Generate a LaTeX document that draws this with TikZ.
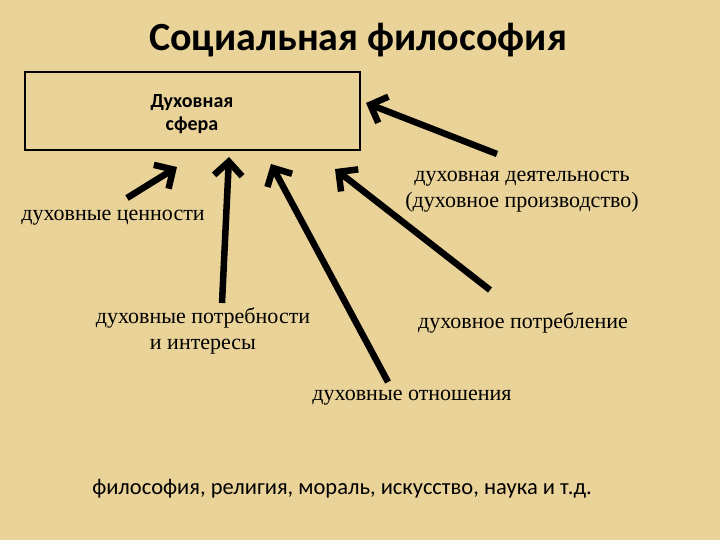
\documentclass[tikz,border=0pt]{standalone}
\usepackage{fontspec}
\setmainfont{Liberation Serif}
\newfontfamily\calib{Carlito}
\usetikzlibrary{arrows.meta}
\definecolor{parch}{RGB}{234,211,153}
\tikzset{
  bigarrow/.style={line width=6.5pt,-{Straight Barb[length=14pt,width=28pt,line width=6.5pt]},line cap=butt},
  lbl/.style={font=\fontsize{22}{26}\selectfont,align=center,inner sep=0pt},
}
\begin{document}
\begin{tikzpicture}[x=1pt,y=-1pt]
\fill[parch] (0,0) rectangle (720,540);
\useasboundingbox (0,0) rectangle (720,540);
\node[font=\calib\bfseries\fontsize{40}{46}\selectfont] (title) at (358,40) {Социальная философия};
\node[draw,line width=2pt,minimum width=335pt,minimum height=78pt,inner sep=0pt] (box) at (192.5,111) {};
\node[font=\calib\bfseries\fontsize{20}{23}\selectfont,align=center,inner sep=0pt] (sph) at (192,114) {Духовная\\сфера};
\node[lbl] (cen) at (113,218) {духовные ценности};
\node[lbl] (pot) at (203,331) {духовные потребности\\и интересы};
\node[lbl] (otn) at (412,398) {духовные отношения};
\node[lbl] (ptr) at (523,323) {духовное потребление};
\node[lbl] (dey) at (522,192) {духовная деятельность\\(духовное производство)};
\node[font=\calib\fontsize{22.5}{27}\selectfont,inner sep=0pt] (bot) at (342,489) {философия, религия, мораль, искусство, наука и т.д.};
\coordinate (t1) at (127,198); \coordinate (h1) at (177,167);
\coordinate (t2) at (222,303); \coordinate (h2) at (229,157);
\coordinate (t3) at (388,382); \coordinate (h3) at (271,164);
\coordinate (t4) at (490,290); \coordinate (h4) at (335,169);
\coordinate (t5) at (497,154); \coordinate (h5) at (366,103);
\draw[bigarrow] (t1) -- (h1);
\draw[bigarrow] (t2) -- (h2);
\draw[bigarrow] (t3) -- (h3);
\draw[bigarrow] (t4) -- (h4);
\draw[bigarrow] (t5) -- (h5);
\end{tikzpicture}
\end{document}
